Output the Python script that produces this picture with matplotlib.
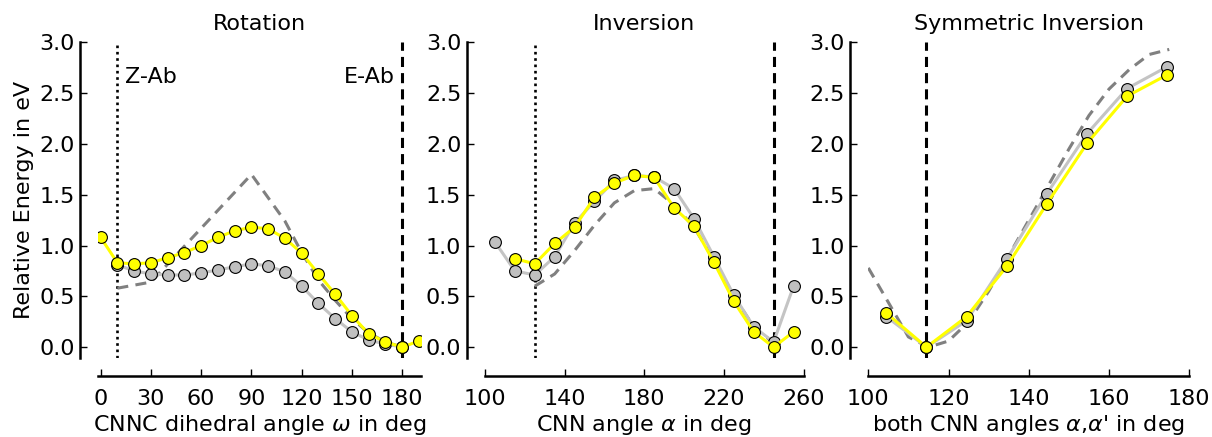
import matplotlib
matplotlib.use("Agg")
import matplotlib.pyplot as plt

# ---------------- data ----------------
# Panel 1: Rotation
rot_x_yellow = [0, 10, 20, 30, 40, 50, 60, 70, 80, 90, 100, 110, 120, 130, 140, 150, 160, 170, 180, 190]
rot_y_yellow = [1.08, 0.83, 0.82, 0.83, 0.88, 0.93, 1.00, 1.08, 1.145, 1.18, 1.165, 1.07, 0.925, 0.72, 0.52, 0.31, 0.13, 0.05, 0.00, 0.06]
rot_x_grey = [10, 20, 30, 40, 50, 60, 70, 80, 90, 100, 110, 120, 130, 140, 150, 160, 170, 180]
rot_y_grey = [0.81, 0.75, 0.72, 0.71, 0.71, 0.73, 0.76, 0.79, 0.82, 0.80, 0.74, 0.60, 0.43, 0.28, 0.15, 0.07, 0.03, 0.00]
rot_x_dash = [10, 30, 90, 110, 120, 130, 140, 150, 160, 170, 180]
rot_y_dash = [0.58, 0.64, 1.70, 1.24, 0.93, 0.66, 0.46, 0.28, 0.14, 0.05, 0.00]

# Panel 2: Inversion
inv_x_yellow = [115, 125, 135, 145, 155, 165, 175, 185, 195, 205, 215, 225, 235, 245, 255]
inv_y_yellow = [0.87, 0.82, 1.02, 1.18, 1.475, 1.615, 1.69, 1.67, 1.37, 1.19, 0.835, 0.45, 0.15, 0.00, 0.15]
inv_x_grey = [105, 115, 125, 135, 145, 155, 165, 175, 185, 195, 205, 215, 225, 235, 245, 255]
inv_y_grey = [1.035, 0.75, 0.71, 0.89, 1.22, 1.435, 1.64, 1.69, 1.675, 1.56, 1.265, 0.89, 0.51, 0.20, 0.05, 0.60]
inv_x_dash = [125, 135, 145, 155, 165, 175, 185, 195, 205, 215, 225, 235, 245]
inv_y_dash = [0.60, 0.72, 0.95, 1.20, 1.42, 1.54, 1.56, 1.40, 1.18, 0.86, 0.50, 0.20, 0.04]

# Panel 3: Symmetric Inversion
sym_x = [104.5, 114.5, 124.5, 134.5, 144.5, 154.5, 164.5, 174.5]
sym_y_yellow = [0.335, 0.00, 0.30, 0.795, 1.41, 2.005, 2.47, 2.68]
sym_y_grey = [0.30, 0.00, 0.26, 0.865, 1.51, 2.10, 2.545, 2.76]
sym_x_dash = [100, 105, 110, 115, 120, 125, 130, 135, 140, 145, 150, 155, 160, 165, 170, 175]
sym_y_dash = [0.78, 0.44, 0.10, 0.00, 0.06, 0.25, 0.55, 0.90, 1.25, 1.60, 1.95, 2.28, 2.54, 2.73, 2.88, 2.93]

titles = ["Rotation", "Inversion", "Symmetric Inversion"]
xlabels = [r"CNNC dihedral angle $\omega$ in deg", r"CNN angle $\alpha$ in deg",
           r"both CNN angles $\alpha$,$\alpha$' in deg"]
xticks_list = [[0, 30, 60, 90, 120, 150, 180], [100, 140, 180, 220, 260], [100, 120, 140, 160, 180]]
yticks = [0.0, 0.5, 1.0, 1.5, 2.0, 2.5, 3.0]

# ---------------- style ----------------
plt.rcParams['font.family'] = ['DejaVu Sans']
plt.rcParams['mathtext.fontset'] = 'dejavusans'
FS = 16
YELLOW = '#ffff00'
GREY_FACE = '#c0c0c0'
GREY_LINE = '#c4c4c4'
DASH_C = '#808080'
DOTTED = (0, (1, 1.4))
VDASH = (0, (3.3, 2.0))

fig = plt.figure(figsize=(12.12, 4.37), dpi=100)
W, H = 1212, 437
boxes = [(98.3, 421.0), (485.0, 803.5), (868.3, 1189.3)]
top_px, bot_px = 42.3, 358.3
xlims = [(-1.4, 191.2), (100, 260), (100, 180)]

axes = []
for (l, r) in boxes:
    ax = fig.add_axes([l / W, 1 - bot_px / H, (r - l) / W, (bot_px - top_px) / H])
    axes.append(ax)

def style(ax, i):
    for s in ['top', 'right']:
        ax.spines[s].set_visible(False)
    for s in ['left', 'bottom']:
        ax.spines[s].set_position(('outward', 13))
        ax.spines[s].set_linewidth(1.8)
    ax.set_xlim(*xlims[i])
    ax.set_ylim(-0.11, 3.0)
    ax.set_xticks(xticks_list[i])
    ax.set_yticks(yticks)
    ax.set_yticklabels([f"{v:.1f}" for v in yticks])
    ax.tick_params(direction='in', length=5, width=1, labelsize=FS)
    ax.tick_params(axis='x', pad=9)
    ax.tick_params(axis='y', pad=4)
    ax.set_title(titles[i], fontsize=FS, pad=9)
    ax.set_xlabel(xlabels[i], fontsize=FS, labelpad=3)

def series(ax, xd, yd, xg, yg, xy, yy):
    ax.plot(xd, yd, color=DASH_C, lw=2.2, dashes=(3.6, 2.4), zorder=2)
    ax.plot(xg, yg, color=GREY_LINE, lw=2.2, marker='o', ms=8.5, mfc=GREY_FACE,
            mec='black', mew=0.8, zorder=3)
    ax.plot(xy, yy, color=YELLOW, lw=2.2, marker='o', ms=8.5, mfc=YELLOW,
            mec='black', mew=0.8, zorder=4)

# Panel 1
ax = axes[0]
style(ax, 0)
ax.axvline(10, color='black', lw=1.9, ls=DOTTED, zorder=1)
ax.axvline(180, color='black', lw=2.2, ls=VDASH, zorder=1)
series(ax, rot_x_dash, rot_y_dash, rot_x_grey, rot_y_grey, rot_x_yellow, rot_y_yellow)
ax.text(14.5, 2.66, "Z-Ab", fontsize=FS, ha='left', va='center')
ax.text(175.5, 2.66, "E-Ab", fontsize=FS, ha='right', va='center')
ax.set_ylabel("Relative Energy in eV", fontsize=FS, labelpad=4)

# Panel 2
ax = axes[1]
style(ax, 1)
ax.axvline(125, color='black', lw=1.9, ls=DOTTED, zorder=1)
ax.axvline(245, color='black', lw=2.2, ls=VDASH, zorder=1)
series(ax, inv_x_dash, inv_y_dash, inv_x_grey, inv_y_grey, inv_x_yellow, inv_y_yellow)

# Panel 3
ax = axes[2]
style(ax, 2)
ax.axvline(114.5, color='black', lw=2.2, ls=VDASH, zorder=1)
series(ax, sym_x_dash, sym_y_dash, sym_x, sym_y_grey, sym_x, sym_y_yellow)

fig.savefig("out.png", dpi=100)
